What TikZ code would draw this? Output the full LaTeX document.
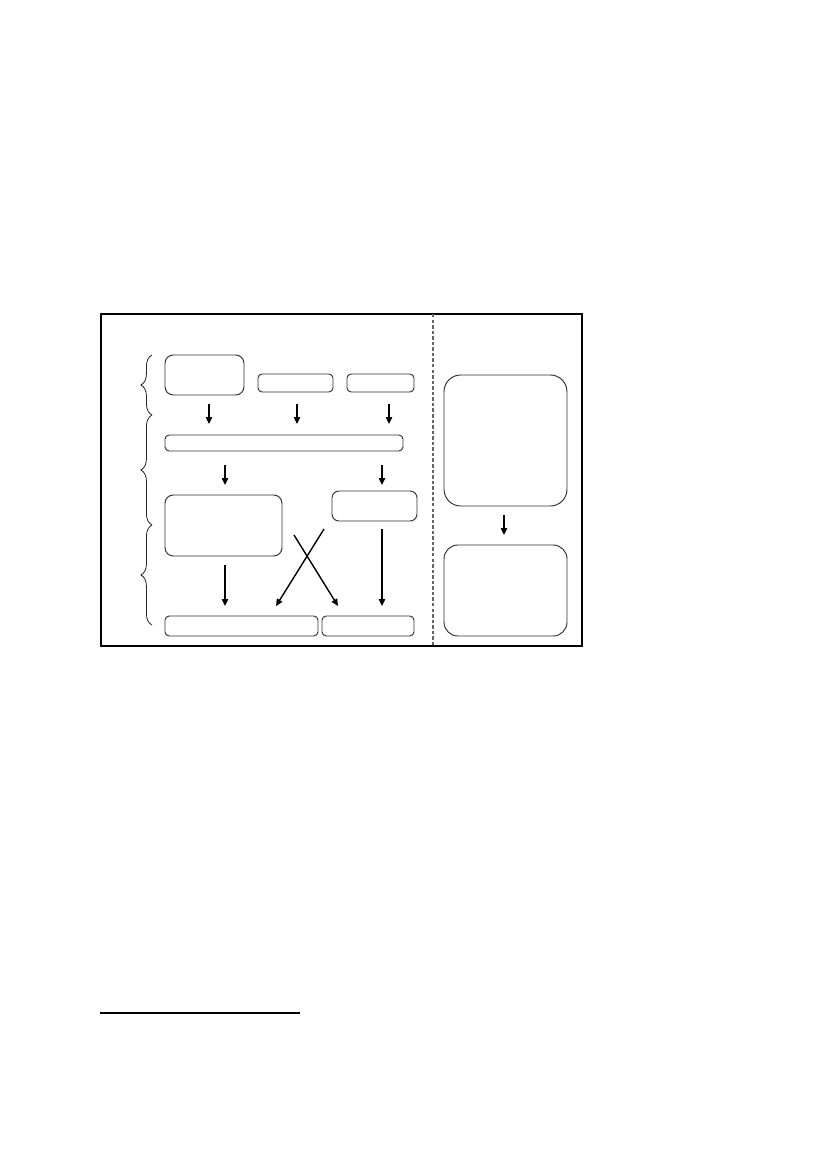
\documentclass[tikz,border=0pt]{standalone}
\usetikzlibrary{arrows.meta,decorations.pathreplacing,fit}
\begin{document}
\begin{tikzpicture}[x=0.7198pt,y=-0.7198pt,
  box/.style={draw=black!80, line width=0.7pt, inner sep=0pt, outer sep=0pt, rounded corners=#1},
  box/.default=3pt,
  arr/.style={line width=1pt, -{Triangle[length=5pt,width=4.5pt]}},
  brc/.style={draw=black!85, line width=0.6pt, decorate, decoration={brace, amplitude=8pt}}]
\path[use as bounding box] (0,0) rectangle (827,1169);

% outer frame and divider
\node[draw=black, line width=0.8pt, inner sep=0pt, fit={(101,314) (582,646)}] (frame) {};
\coordinate (dtop) at (433,314);
\coordinate (dbot) at (433,646);
\draw[draw=black!60, line width=0.8pt, dash pattern=on 2.5pt off 1.5pt] (dtop) -- (dbot);

% left boxes
\node[box=6pt, fit={(165,355) (244,395)}] (A) {};
\node[box, fit={(258,374) (333,392)}] (B) {};
\node[box, fit={(347,374) (414,392)}] (C) {};
\node[box, fit={(165,435) (403,451)}] (L) {};
\node[box=6pt, fit={(165,495) (282,556)}] (D) {};
\node[box=5pt, fit={(332,491) (417,521)}] (E) {};
\node[box, fit={(165,616) (318,636)}] (F) {};
\node[box, fit={(322,616) (414,636)}] (G) {};

% right boxes
\node[box=12pt, fit={(444,375) (567,506)}] (H) {};
\node[box=10pt, fit={(444,545) (567,636)}] (I) {};

% braces
\coordinate (b0) at (152,355);
\coordinate (b1) at (152,415);
\coordinate (b2) at (152,525);
\coordinate (b3) at (152,625);
\draw[brc] (b1) -- (b0);
\draw[brc] (b2) -- (b1);
\draw[brc] (b3) -- (b2);

% arrow end points
\coordinate (a1s) at (209,404); \coordinate (a1e) at (209,424);
\coordinate (a2s) at (297,404); \coordinate (a2e) at (297,424);
\coordinate (a3s) at (389,404); \coordinate (a3e) at (389,424);
\coordinate (a4s) at (225,465); \coordinate (a4e) at (225,485);
\coordinate (a5s) at (382,465); \coordinate (a5e) at (382,485);
\coordinate (a6s) at (225,565); \coordinate (a6e) at (225,606);
\coordinate (a7s) at (382,529); \coordinate (a7e) at (382,606);
\coordinate (a8s) at (294,535); \coordinate (a8e) at (338,606);
\coordinate (a9s) at (324,529); \coordinate (a9e) at (276,606);
\coordinate (a10s) at (504,515); \coordinate (a10e) at (504,535);

\draw[arr] (a1s) -- (a1e);
\draw[arr] (a2s) -- (a2e);
\draw[arr] (a3s) -- (a3e);
\draw[arr] (a4s) -- (a4e);
\draw[arr] (a5s) -- (a5e);
\draw[arr] (a6s) -- (a6e);
\draw[arr] (a7s) -- (a7e);
\draw[arr] (a8s) -- (a8e);
\draw[arr] (a9s) -- (a9e);
\draw[arr] (a10s) -- (a10e);

% footnote rule
\coordinate (f0) at (100,1013);
\coordinate (f1) at (300,1013);
\draw[line width=0.9pt] (f0) -- (f1);
\end{tikzpicture}
\end{document}
